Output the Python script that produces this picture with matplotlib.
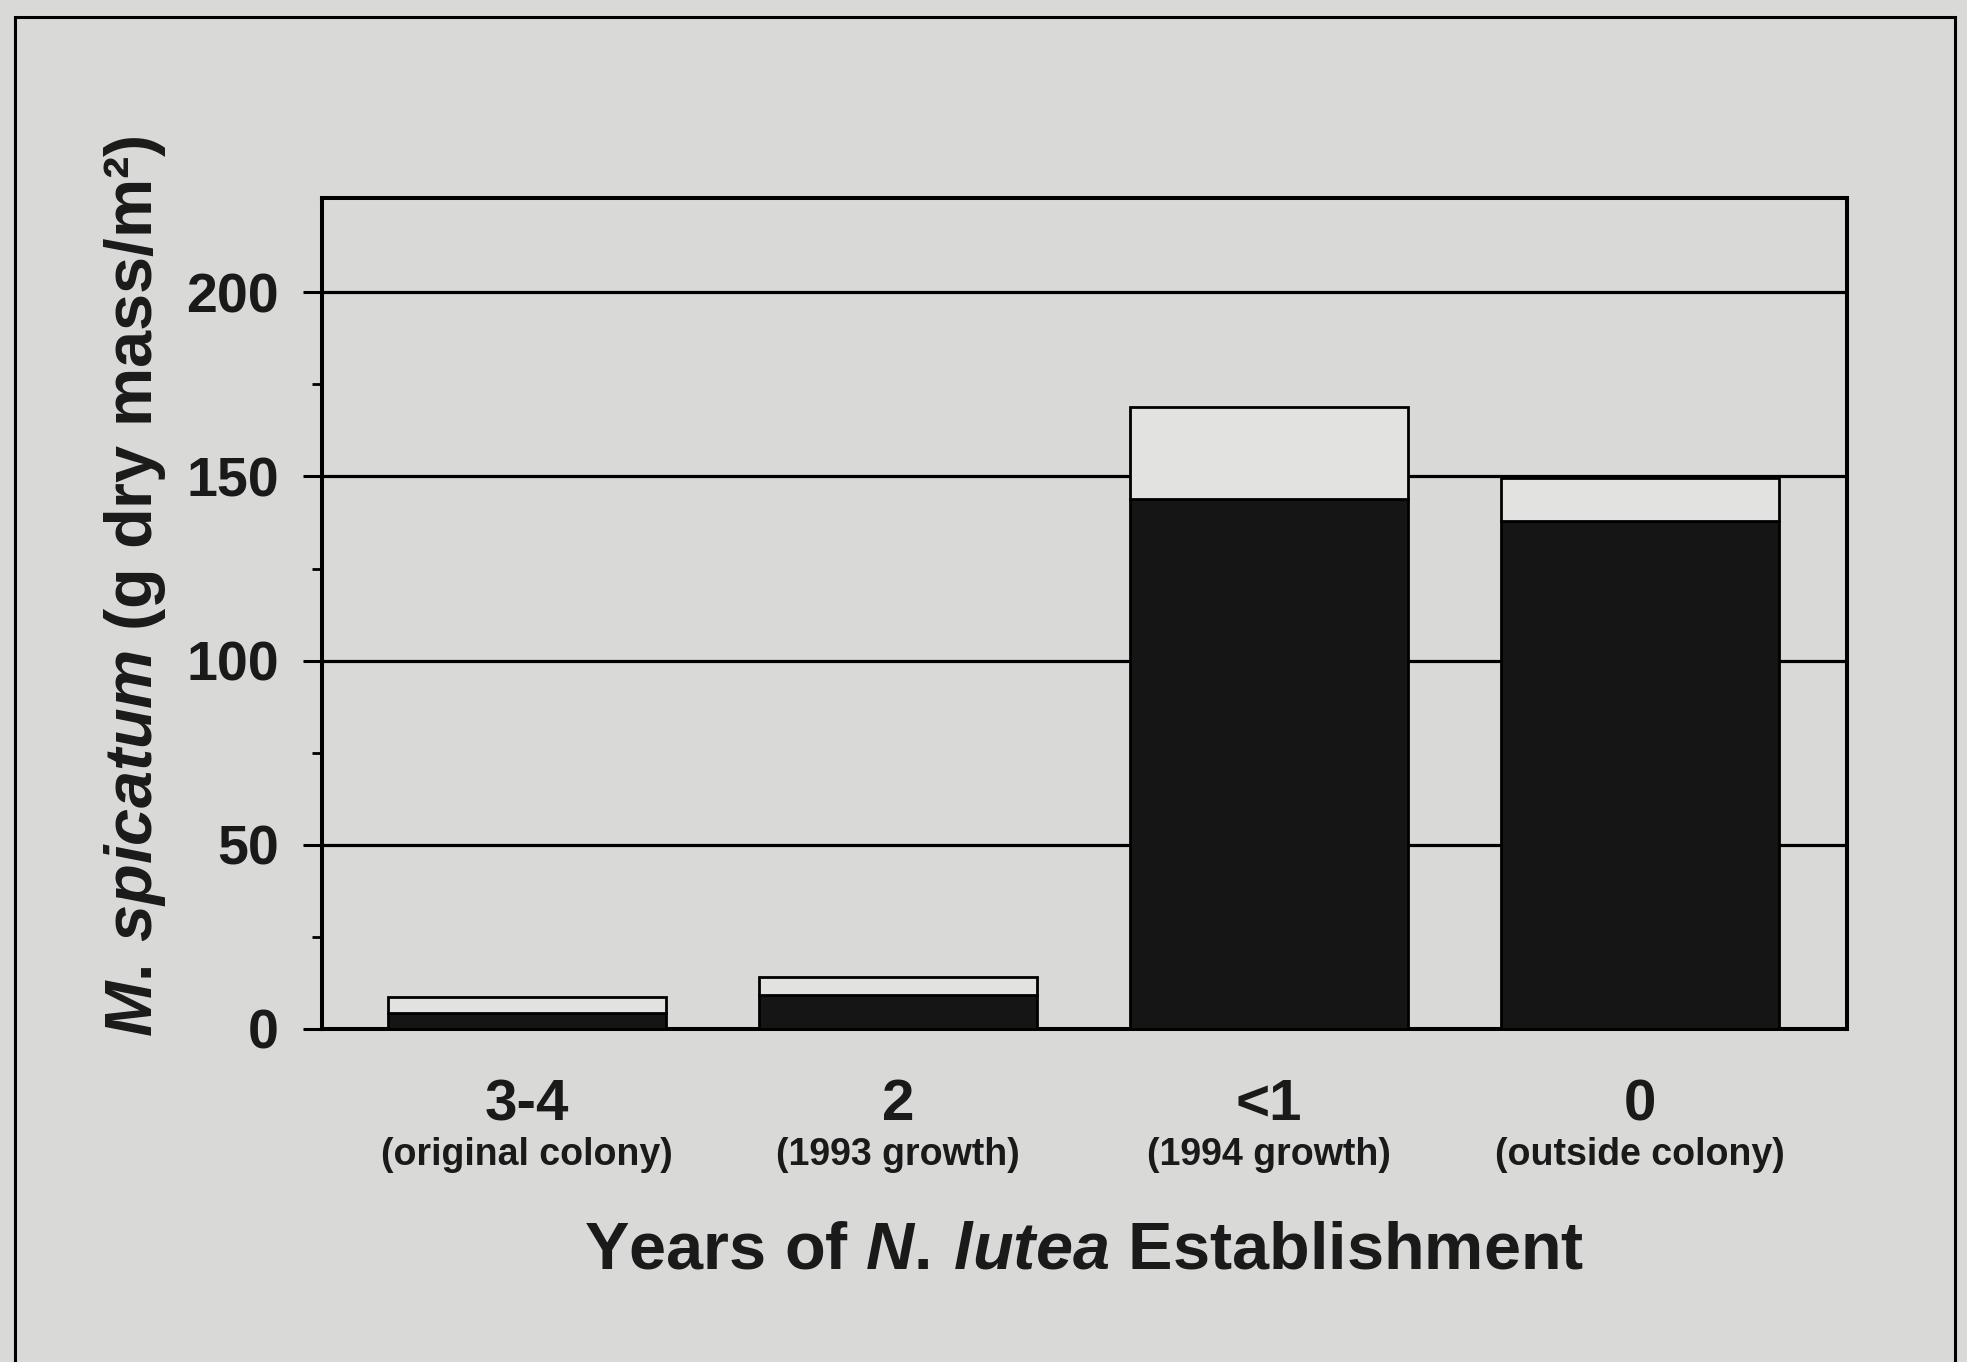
import matplotlib.pyplot as plt
from matplotlib.patches import Rectangle

plt.rcParams['font.family'] = ['Liberation Sans', 'DejaVu Sans']
plt.rcParams['mathtext.fontset'] = 'custom'
plt.rcParams['mathtext.it'] = 'Liberation Sans:italic:bold'
plt.rcParams['mathtext.rm'] = 'Liberation Sans:bold'

# data
years = ['3-4', '2', '<1', '0']
notes = ['(original colony)', '(1993 growth)', '(1994 growth)', '(outside colony)']
lower = [4.4, 9.2, 143.8, 137.9]     # black part of bar
upper = [4.3, 4.8, 25.1, 11.6]       # open part stacked on top

bg = '#d9d9d7'
fig = plt.figure(figsize=(19.67, 13.62), dpi=100, facecolor=bg)
ax = fig.add_axes([0.1637, 0.2445, 0.7753, 0.6101], facecolor=bg)

x = list(range(len(years)))
ax.bar(x, lower, width=0.75, color='#151515', edgecolor='black', linewidth=2, zorder=3)
ax.bar(x, upper, width=0.75, bottom=lower, color='#e2e2e0', edgecolor='black',
       linewidth=2, zorder=3)

ax.set_xlim(-0.553, 3.559)
ax.set_ylim(0, 225.6)
ax.set_yticks([0, 50, 100, 150, 200])
ax.set_yticks([25, 75, 125, 175], minor=True)
ax.yaxis.grid(True, color='black', linewidth=2.3, zorder=1)
ax.set_axisbelow(True)

ax.set_xticks([])
ax.tick_params(axis='y', which='major', direction='out', length=14, width=2.2,
               pad=17, labelsize=40)
ax.tick_params(axis='y', which='minor', direction='out', length=7, width=2)
for lab in ax.get_yticklabels():
    lab.set_fontweight('bold')
    lab.set_color('#1a1a1a')
for sp in ax.spines.values():
    sp.set_linewidth(2.9)
    sp.set_color('black')

tr = ax.get_xaxis_transform()
for i in x:
    ax.text(i, -0.092, years[i], transform=tr, ha='center', va='center',
            fontsize=42, fontweight='bold', color='#1a1a1a')
    ax.text(i, -0.152, notes[i], transform=tr, ha='center', va='center',
            fontsize=27, fontweight='bold', color='#1a1a1a')

ax.text(0.5, -0.268, r'Years of $\mathit{N.}\,\mathit{lutea}$ Establishment', transform=ax.transAxes,
        ha='center', va='center', fontsize=48, fontweight='bold', color='#1a1a1a')
fig.text(0.0686, 0.5697, r'$\mathit{M.}\,\mathit{spicatum}$ (g dry mass/m²)', rotation=90,
         ha='center', va='center', fontsize=48, fontweight='bold', color='#1a1a1a')

fig.patches.append(Rectangle((0.0076, -0.05), 0.9863, 0.9875 + 0.05, transform=fig.transFigure,
                             fill=False, edgecolor='black', linewidth=2.2, clip_on=False))

fig.savefig('out.png', dpi=100, facecolor=bg)
